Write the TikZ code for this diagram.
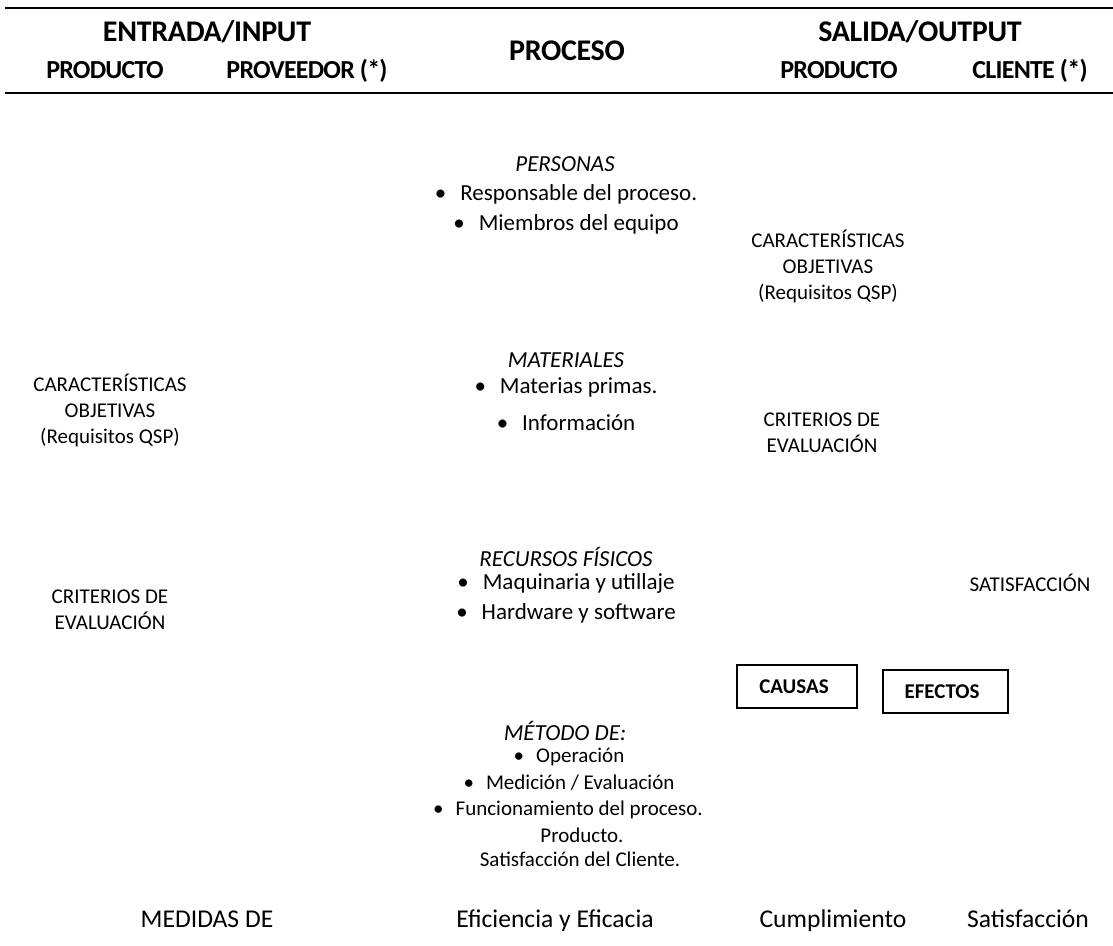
\documentclass[tikz,border=0pt]{standalone}
\usepackage{fontspec}
\setmainfont{Carlito}
\newfontfamily\headfont[LetterSpace=-1]{Carlito}
\newfontfamily\subheadfont[LetterSpace=-3]{Carlito}
\begin{document}
\begin{tikzpicture}[x=1pt,y=-1pt,
  every node/.style={inner sep=0pt,outer sep=0pt,align=center},
  bigtitle/.style={font=\headfont\bfseries\fontsize{30}{34}\selectfont,anchor=base},
  subtitle/.style={font=\subheadfont\bfseries\fontsize{26}{30}\selectfont,anchor=base},
  body/.style={font=\fontsize{23}{27}\selectfont},
  small/.style={font=\fontsize{21}{26}\selectfont},
  meth/.style={font=\fontsize{21}{26}\selectfont},
  bottom/.style={font=\fontsize{25.6}{30}\selectfont,anchor=base},
  boxed/.style={draw,line width=2pt,minimum height=43pt,font=\bfseries\fontsize{21}{24}\selectfont},
  rule/.style={line width=2pt}]
\useasboundingbox (0,0) rectangle (1113,945);

% header rules
\coordinate (tl) at (5,8);
\coordinate (tr) at (1113,8);
\coordinate (bl) at (5,93);
\coordinate (br) at (1113,93);
\draw[rule] (tl) -- (tr);
\draw[rule] (bl) -- (br);

% header titles
\node[bigtitle] (entrada) at (207,41) {ENTRADA/INPUT};
\node[subtitle] (prodin) at (105,78.5) {PRODUCTO};
\node[subtitle] (prov) at (307,78.5) {PROVEEDOR (*)};
\node[bigtitle] (proceso) at (567,60) {PROCESO};
\node[bigtitle] (salida) at (920,41) {SALIDA/OUTPUT};
\node[subtitle] (prodout) at (839,78.5) {PRODUCTO};
\node[subtitle] (cliente) at (1030,78.5) {CLIENTE (*)};

% process: people
\node[body] (personas) at (565,164) {\itshape PERSONAS};
\node[body] (resp) at (566,194) {\textbullet\hspace{14pt}Responsable del proceso.};
\node[body] (miem) at (566,224) {\textbullet\hspace{14pt}Miembros del equipo};

% process: materials
\node[body] (materiales) at (566,360) {\itshape MATERIALES};
\node[body] (matprim) at (566,387) {\textbullet\hspace{14pt}Materias primas.};
\node[body] (info) at (566,423) {\textbullet\hspace{14pt}Información};

% process: physical resources
\node[body] (recursos) at (566,557) {\itshape RECURSOS FÍSICOS};
\node[body] (maq) at (566,583) {\textbullet\hspace{14pt}Maquinaria y utillaje};
\node[body] (hard) at (566,613) {\textbullet\hspace{14pt}Hardware y software};

% process: method
\node[body] (metodo) at (565,731) {\itshape MÉTODO DE:};
\node[meth] (oper) at (569,757) {\textbullet\hspace{12pt}Operación};
\node[meth] (medic) at (569,783) {\textbullet\hspace{12pt}Medición / Evaluación};
\node[meth] (func) at (568,810) {\textbullet\hspace{12pt}Funcionamiento del proceso.};
\node[meth] (prodm) at (582,835) {Producto.};
\node[meth] (satm) at (580,859) {Satisfacción del Cliente.};

% input side
\node[small] (carin) at (110,410) {CARACTERÍSTICAS\\OBJETIVAS\\(Requisitos QSP)};
\node[small] (critin) at (110,610) {CRITERIOS DE\\EVALUACIÓN};

% output side
\node[small] (carout) at (828,266) {CARACTERÍSTICAS\\OBJETIVAS\\(Requisitos QSP)};
\node[small] (critout) at (822,433) {CRITERIOS DE\\EVALUACIÓN};
\node[small] (satis) at (1030,583) {SATISFACCIÓN};

% cause / effect boxes
\node[boxed,minimum width=120pt] (causas) at (797,686.5) {\hspace{-6pt}\raisebox{-3.5pt}{CAUSAS}};
\node[boxed,minimum width=125pt] (efectos) at (945.5,691.5) {\hspace{-7pt}\raisebox{-4.5pt}{EFECTOS}};

% measures row
\node[bottom] (medidas) at (207,927) {MEDIDAS DE};
\node[bottom] (efic) at (555,927) {Eficiencia y Eficacia};
\node[bottom] (cumpl) at (833,927) {Cumplimiento};
\node[bottom] (satb) at (1028,927) {Satisfacción};
\end{tikzpicture}
\end{document}
